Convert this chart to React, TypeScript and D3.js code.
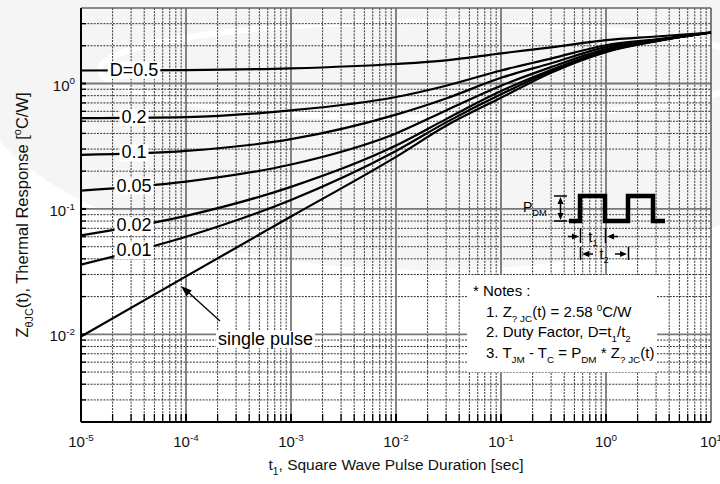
import { useEffect, useRef } from "react";
import * as d3 from "d3";

// pulse durations (sec)
const pulseTimes = [1e-5, 1e-4, 1e-3, 1e-2, 3e-2, 1e-1, 3e-1, 1, 3, 10];

// Z thermal response per duty factor (degC/W)
const zD050 = [1.27, 1.28, 1.32, 1.43, 1.53, 1.74, 1.94, 2.22, 2.37, 2.55];
const zD020 = [0.53, 0.54, 0.61, 0.78, 0.96, 1.27, 1.58, 2.02, 2.25, 2.55];
const zD010 = [0.27, 0.29, 0.36, 0.565, 0.76, 1.11, 1.45, 1.95, 2.22, 2.55];
const zD005 = [0.14, 0.165, 0.226, 0.4, 0.61, 0.96, 1.35, 1.88, 2.2, 2.55];
const zD002 = [0.0615, 0.088, 0.15, 0.32, 0.52, 0.87, 1.28, 1.83, 2.19, 2.55];
const zD001 = [0.036, 0.06, 0.118, 0.29, 0.49, 0.82, 1.25, 1.8, 2.18, 2.55];
const zSingle = [0.0096, 0.029, 0.087, 0.26, 0.46, 0.77, 1.22, 1.78, 2.17, 2.55];

const seriesValues = [zD050, zD020, zD010, zD005, zD002, zD001, zSingle];
const seriesLabels = ["D=0.5", "0.2", "0.1", "0.05", "0.02", "0.01", "single pulse"];

const xTickExps = [-5, -4, -3, -2, -1, 0, 1];
const yTickExps = [-2, -1, 0];

const FONT = "'Liberation Sans', Arial, Helvetica, sans-serif";

type Part = [string, "n" | "sub" | "sup"];

// append tspans with sub/superscripts
function rich(sel: any, parts: Part[], size: number) {
  let off = 0;
  parts.forEach(([s, k]) => {
    const target = k === "sub" ? size * 0.32 : k === "sup" ? -size * 0.42 : 0;
    const ts = sel.append("tspan").attr("dy", target - off).text(s);
    if (k !== "n") ts.attr("font-size", size * 0.66);
    off = target;
  });
}

export default function App() {
  const svgRef = useRef<SVGSVGElement>(null);

  useEffect(() => {
    if (!svgRef.current) return;
    const W = 720;
    const H = 484;
    const m = { left: 81, right: 711, top: 8, bottom: 422 };

    const svg = d3.select(svgRef.current);
    svg.selectAll("*").remove();
    svg.attr("width", W).attr("height", H);

    const x = d3.scaleLog().domain([1e-5, 10]).range([m.left, m.right]);
    const y = d3.scaleLog().domain([2e-3, 4]).range([m.bottom, m.top]);

    svg.append("rect").attr("width", W).attr("height", H).attr("fill", "#fff");

    // faint watermark swoosh behind everything
    svg.append("ellipse")
      .attr("cx", 430).attr("cy", 70).attr("rx", 460).attr("ry", 200)
      .attr("fill", "#f5f5f5");
    svg.append("ellipse")
      .attr("cx", 430).attr("cy", 70).attr("rx", 330).attr("ry", 48)
      .attr("fill", "none").attr("stroke", "#fff").attr("stroke-width", 6);

    // grid
    const minorX = d3.range(-5, 1).flatMap((e) => d3.range(2, 10).map((k) => k * 10 ** e));
    const majorX = d3.range(-4, 1).map((e) => 10 ** e);
    const minorY = d3.range(-3, 1)
      .flatMap((e) => d3.range(2, 10).map((k) => k * 10 ** e))
      .filter((v) => v > 2.05e-3 && v < 3.9);
    const majorY = yTickExps.map((e) => 10 ** e);

    const grid = svg.append("g");
    grid.selectAll("line.gx")
      .data(minorX)
      .join("line")
      .attr("x1", (d) => x(d)).attr("x2", (d) => x(d))
      .attr("y1", m.top).attr("y2", m.bottom)
      .attr("stroke", "#333").attr("stroke-width", 1)
      .attr("stroke-dasharray", "2,1.2");
    grid.selectAll("line.gy")
      .data(minorY)
      .join("line")
      .attr("x1", m.left).attr("x2", m.right)
      .attr("y1", (d) => y(d)).attr("y2", (d) => y(d))
      .attr("stroke", "#333").attr("stroke-width", 1)
      .attr("stroke-dasharray", "2,1.2");
    grid.selectAll("line.mx")
      .data(majorX)
      .join("line")
      .attr("x1", (d) => x(d)).attr("x2", (d) => x(d))
      .attr("y1", m.top).attr("y2", m.bottom)
      .attr("stroke", "#777").attr("stroke-width", 1.8);
    grid.selectAll("line.my")
      .data(majorY)
      .join("line")
      .attr("x1", m.left).attr("x2", m.right)
      .attr("y1", (d) => y(d)).attr("y2", (d) => y(d))
      .attr("stroke", "#777").attr("stroke-width", 1.8);

    // frame
    svg.append("line").attr("x1", m.left).attr("x2", m.right).attr("y1", m.top).attr("y2", m.top)
      .attr("stroke", "#666").attr("stroke-width", 1.5);
    svg.append("line").attr("x1", m.right).attr("x2", m.right).attr("y1", m.top).attr("y2", m.bottom)
      .attr("stroke", "#555").attr("stroke-width", 1.5);
    svg.append("line").attr("x1", m.left).attr("x2", m.right).attr("y1", m.bottom).attr("y2", m.bottom)
      .attr("stroke", "#000").attr("stroke-width", 2);
    svg.append("line").attr("x1", m.left).attr("x2", m.left).attr("y1", m.top).attr("y2", m.bottom)
      .attr("stroke", "#000").attr("stroke-width", 2);

    // inward ticks
    svg.append("g").selectAll("line")
      .data([...minorX, ...majorX])
      .join("line")
      .attr("x1", (d) => x(d)).attr("x2", (d) => x(d))
      .attr("y1", m.bottom).attr("y2", m.bottom - 8)
      .attr("stroke", "#000").attr("stroke-width", (d) => (majorX.includes(d) ? 2 : 1.3));
    svg.append("g").selectAll("line")
      .data([...minorY, ...majorY])
      .join("line")
      .attr("x1", m.left).attr("x2", m.left + 5)
      .attr("y1", (d) => y(d)).attr("y2", (d) => y(d))
      .attr("stroke", "#000").attr("stroke-width", (d) => (majorY.includes(d) ? 2 : 1.3));

    // tick labels
    xTickExps.forEach((e) => {
      const t = svg.append("text")
        .attr("x", x(10 ** e)).attr("y", 447)
        .attr("text-anchor", "middle")
        .attr("font-family", FONT).attr("font-size", 15).attr("fill", "#111");
      rich(t, [["10", "n"], [String(e), "sup"]], 15);
    });
    yTickExps.forEach((e) => {
      const t = svg.append("text")
        .attr("x", 75).attr("y", y(10 ** e) + 7)
        .attr("text-anchor", "end")
        .attr("font-family", FONT).attr("font-size", 15).attr("fill", "#111");
      rich(t, [["10", "n"], [String(e), "sup"]], 15);
    });

    // axis titles
    const xt = svg.append("text")
      .attr("x", (m.left + m.right) / 2).attr("y", 470)
      .attr("text-anchor", "middle")
      .attr("font-family", FONT).attr("font-size", 15.5).attr("fill", "#111");
    rich(xt, [["t", "n"], ["1", "sub"], [", Square Wave Pulse Duration [sec]", "n"]], 15.5);

    const yt = svg.append("text")
      .attr("transform", `translate(28,${(m.top + m.bottom) / 2}) rotate(-90)`)
      .attr("text-anchor", "middle")
      .attr("font-family", FONT).attr("font-size", 16.5).attr("fill", "#111");
    rich(yt, [["Z", "n"], ["θJC", "sub"], ["(t), Thermal Response [", "n"], ["o", "sup"], ["C/W]", "n"]], 16.5);

    // curves
    const line = d3.line<number>()
      .x((_, i) => x(pulseTimes[i]))
      .y((d) => y(d))
      .curve(d3.curveMonotoneX);

    svg.append("g").selectAll("path")
      .data(seriesValues)
      .join("path")
      .attr("d", (d) => line(d))
      .attr("fill", "none")
      .attr("stroke", "#000")
      .attr("stroke-width", 2.2);

    // curve labels with white boxes
    const labelX = 134;
    const frac = (labelX - x(pulseTimes[0])) / (x(pulseTimes[1]) - x(pulseTimes[0]));
    seriesLabels.slice(0, 6).forEach((lab, i) => {
      const vals = seriesValues[i];
      const yy = y(vals[0]) + (y(vals[1]) - y(vals[0])) * frac;
      const g = svg.append("g");
      const t = g.append("text")
        .attr("x", labelX).attr("y", yy + 5.5)
        .attr("text-anchor", "middle")
        .attr("font-family", FONT).attr("font-size", 18).attr("fill", "#000")
        .text(lab);
      const bb = (t.node() as SVGTextElement).getBBox();
      g.insert("rect", "text")
        .attr("x", bb.x - 2).attr("y", bb.y + 2)
        .attr("width", bb.width + 4).attr("height", bb.height - 3)
        .attr("fill", "#fff");
    });

    // single pulse label + arrow
    const sg = svg.append("g");
    const st = sg.append("text")
      .attr("x", 218).attr("y", 345)
      .attr("font-family", FONT).attr("font-size", 18).attr("fill", "#000")
      .text(seriesLabels[6]);
    const sb = (st.node() as SVGTextElement).getBBox();
    sg.insert("rect", "text")
      .attr("x", sb.x - 2).attr("y", sb.y + 2)
      .attr("width", sb.width + 4).attr("height", sb.height - 3)
      .attr("fill", "#fff");
    sg.append("line")
      .attr("x1", 220).attr("y1", 321).attr("x2", 188).attr("y2", 292)
      .attr("stroke", "#000").attr("stroke-width", 1.3);
    const ang = Math.atan2(292 - 321, 188 - 220);
    const tip = [181, 286];
    const hl = 11, hw = 4;
    const bx = tip[0] - hl * Math.cos(ang), by = tip[1] - hl * Math.sin(ang);
    sg.append("path")
      .attr("d", `M${tip[0]},${tip[1]}L${bx + hw * Math.sin(ang)},${by - hw * Math.cos(ang)}L${bx - hw * Math.sin(ang)},${by + hw * Math.cos(ang)}Z`)
      .attr("fill", "#000");

    // square wave diagram
    const dg = svg.append("g").attr("font-family", FONT).attr("fill", "#000");
    dg.append("path")
      .attr("d", "M569,221H580V196H605V221H628V196H653V221H665")
      .attr("fill", "none").attr("stroke", "#000").attr("stroke-width", 4.5)
      .attr("stroke-linejoin", "miter");
    const pdm = dg.append("text").attr("x", 523).attr("y", 212).attr("font-size", 14);
    rich(pdm, [["P", "n"], ["DM", "sub"]], 14);
    // P_DM double arrow
    dg.append("path").attr("d", "M554,196H567M554,221H567M560.5,201V216")
      .attr("stroke", "#000").attr("stroke-width", 1.5).attr("fill", "none");
    dg.append("path").attr("d", "M560.5,197L557.5,204H563.5ZM560.5,220L557.5,213H563.5Z");

    // t1
    dg.append("path").attr("d", "M580.5,228V243M605.5,228V243M568,236.5H574M611,236.5H618")
      .attr("stroke", "#000").attr("stroke-width", 1.5).attr("fill", "none");
    dg.append("path").attr("d", "M579,236.5L572,233.5V239.5ZM607,236.5L614,233.5V239.5Z");
    const t1 = dg.append("text").attr("x", 593).attr("y", 242).attr("text-anchor", "middle").attr("font-size", 14);
    rich(t1, [["t", "n"], ["1", "sub"]], 14);

    // t2
    dg.append("path").attr("d", "M580.5,247V260M628.5,247V260M587,254H593M615,254H621")
      .attr("stroke", "#000").attr("stroke-width", 1.5).attr("fill", "none");
    dg.append("path").attr("d", "M582,254L589,251V257ZM627,254L620,251V257Z");
    const t2 = dg.append("text").attr("x", 604).attr("y", 259).attr("text-anchor", "middle").attr("font-size", 14);
    rich(t2, [["t", "n"], ["2", "sub"]], 14);

    // notes box
    const ng = svg.append("g").attr("font-family", FONT).attr("fill", "#000");
    ng.append("rect").attr("x", 467).attr("y", 275).attr("width", 190).attr("height", 97).attr("fill", "#fff");
    ng.append("text").attr("x", 473).attr("y", 296).attr("font-size", 15).text("* Notes :");
    const n1 = ng.append("text").attr("x", 486).attr("y", 317).attr("font-size", 15);
    rich(n1, [["1. Z", "n"], ["? JC", "sub"], ["(t) = 2.58 ", "n"], ["0", "sup"], ["C/W", "n"]], 15);
    const n2 = ng.append("text").attr("x", 486).attr("y", 337).attr("font-size", 15);
    rich(n2, [["2. Duty Factor, D=t", "n"], ["1", "sub"], ["/t", "n"], ["2", "sub"]], 15);
    const n3 = ng.append("text").attr("x", 486).attr("y", 358).attr("font-size", 15);
    rich(n3, [["3. T", "n"], ["JM", "sub"], [" - T", "n"], ["C", "sub"], [" = P", "n"], ["DM", "sub"], [" * Z", "n"], ["? JC", "sub"], ["(t)", "n"]], 15);
  }, []);

  return (
    <div style={{ position: "absolute", left: 0, top: 0 }}>
      <svg ref={svgRef} style={{ display: "block" }} />
    </div>
  );
}
